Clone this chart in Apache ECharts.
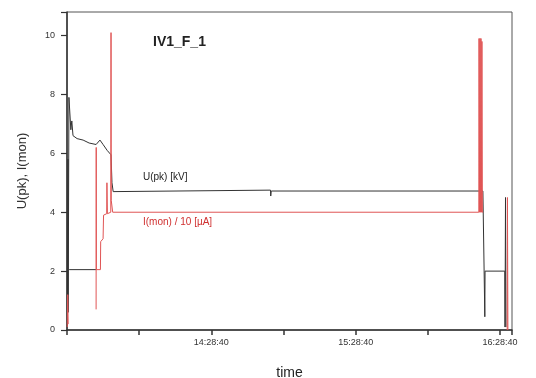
<!DOCTYPE html>
<html>
<head>
<meta charset="utf-8">
<script src="https://cdn.jsdelivr.net/npm/echarts@6/dist/echarts.min.js"></script>
<style>
  html, body { margin: 0; padding: 0; background: #fff; }
  #main { width: 536px; height: 378px; }
</style>
</head>
<body>
<div id="main"></div>
<script>
// time in minutes after 13:28:40
var startSec = 13 * 3600 + 28 * 60 + 40
var xTicks = [0, 30, 60, 90, 120, 150, 180]
var yTicks = [0, 2, 4, 6, 8, 10]

// U(pk) [kV]
var upk = [
  [0.2, 0.1], [0.4, 5.8], [0.5, 0.6], [0.8, 7.9], [1.2, 7.9], [1.6, 6.8], [2.0, 7.1],
  [2.5, 6.6], [4.2, 6.5], [6.7, 6.45], [9.2, 6.35], [12.1, 6.3], [13.7, 6.45],
  [15.0, 6.3], [16.7, 6.1], [18.3, 5.95], [18.7, 5.0], [19.2, 4.7], [19.6, 4.75],
  [84.6, 4.75], [84.7, 4.55], [84.9, 4.72], [172.9, 4.72], [173.6, 4.7],
  [173.7, 0.45], [173.8, 2.0], [182.0, 2.0], [182.1, 0.1], [182.3, 4.5], [182.5, 0.1],
  [182.6, null],
  [0.9, 2.05], [12.1, 2.05], [12.2, null]
]

// I(mon) / 10 [uA]
var imon = [
  [0.1, 0.1], [0.3, 1.2], [0.5, 0.2], [0.6, null],
  [12.1, 0.7], [12.15, 6.2], [12.2, 2.05], [13.9, 2.05], [14.0, 3.0], [15.0, 3.1],
  [15.2, 3.9], [16.5, 3.95], [16.6, 5.0], [16.8, 3.95], [18.2, 4.0], [18.3, 10.1],
  [18.4, 4.4], [19.0, 4.0], [171.2, 4.0], [171.3, 9.9], [171.5, 4.0], [171.7, 9.9],
  [171.9, 4.0], [172.1, 9.9], [172.3, 4.0], [172.5, 9.8], [172.7, 4.0], [173.0, 4.0],
  [173.1, null],
  [183.0, 0.0], [183.1, 4.5], [183.3, 0.0]
]

function fmtTime(v) {
  var s = startSec + Math.round(v * 60)
  var h = Math.floor(s / 3600), m = Math.floor((s % 3600) / 60), sec = s % 60
  var p = function (n) { return (n < 10 ? '0' : '') + n }
  return h + ':' + p(m) + ':' + p(sec)
}

var chart = echarts.init(document.getElementById('main'))
chart.setOption({
  animation: false,
  backgroundColor: '#fff',
  title: {
    text: 'IV1_F_1',
    left: 148, top: 30,
    textStyle: { fontFamily: 'Liberation Sans', fontSize: 14, fontWeight: 'bold', color: '#222' }
  },
  grid: {
    left: 67, right: 24, top: 12, bottom: 48, outerBoundsMode: 'none',
    show: true, borderColor: '#555', borderWidth: 1
  },
  xAxis: {
    type: 'value', min: 0, max: 185, interval: 30,
    name: 'time', nameLocation: 'middle', nameGap: 36,
    nameTextStyle: { fontFamily: 'Liberation Sans', fontSize: 14, color: '#222' },
    splitLine: { show: false },
    axisLine: { lineStyle: { color: '#333', width: 1.5 } },
    axisTick: { length: 5, lineStyle: { color: '#333', width: 1.5 } },
    axisLabel: {
      fontFamily: 'Liberation Sans', fontSize: 9, color: '#333', margin: 8,
      formatter: function (v) { return (v > 0 && v % 60 === 0) ? fmtTime(v) : '' }
    }
  },
  yAxis: {
    type: 'value', min: 0, max: 10.8, interval: 2,
    name: 'U(pk), I(mon)', nameLocation: 'middle', nameGap: 38,
    nameTextStyle: { fontFamily: 'Liberation Sans', fontSize: 13, color: '#333' },
    splitLine: { show: false },
    axisLine: { lineStyle: { color: '#333', width: 1.5 } },
    axisTick: { length: 6, lineStyle: { color: '#333', width: 1.2 } },
    axisLabel: {
      fontFamily: 'Liberation Sans', fontSize: 9, color: '#333', margin: 12,
      formatter: function (v) { return yTicks.indexOf(v) >= 0 ? String(v) : '' }
    }
  },
  graphic: [
    { type: 'text', left: 143, top: 172, style: { text: 'U(pk) [kV]', fontFamily: 'Liberation Sans', fontSize: 10, fill: '#222' } },
    { type: 'text', left: 143, top: 217, style: { text: 'I(mon) / 10 [µA]', fontFamily: 'Liberation Sans', fontSize: 10, fill: '#d03030' } }
  ],
  series: [
    {
      name: 'U(pk)', type: 'line', data: upk, showSymbol: false, connectNulls: false,
      lineStyle: { color: '#333', width: 1 }, itemStyle: { color: '#333' }
    },
    {
      name: 'I(mon)', type: 'line', data: imon, showSymbol: false, connectNulls: false,
      lineStyle: { color: '#e05555', width: 1 }, itemStyle: { color: '#e05555' }
    }
  ]
})
</script>
</body>
</html>
